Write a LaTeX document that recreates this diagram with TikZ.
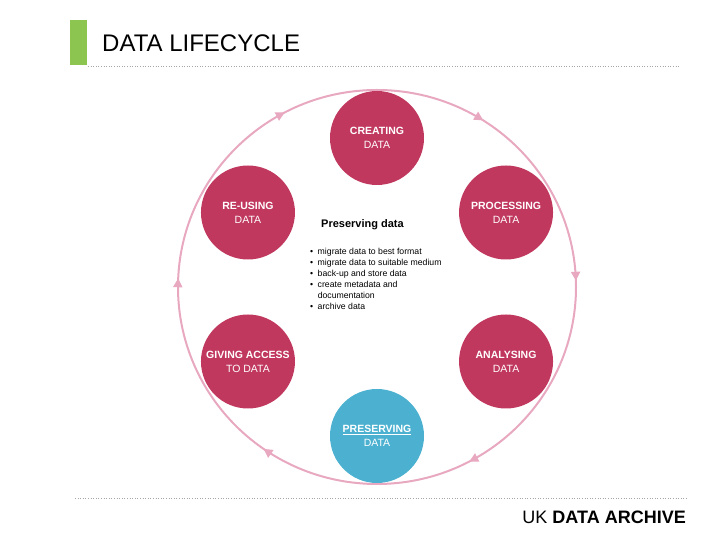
\documentclass[tikz,border=0pt]{standalone}
\usepackage{fontspec}
\setmainfont{Liberation Sans}
\usetikzlibrary{arrows.meta,decorations.markings}
\definecolor{crim}{RGB}{193,56,95}
\definecolor{sky}{RGB}{76,177,208}
\definecolor{ring}{RGB}{232,168,192}
\definecolor{barg}{RGB}{140,198,80}
\begin{document}
\begin{tikzpicture}[x=1pt,y=1pt,
  stage/.style={circle,fill=crim,minimum size=94pt,inner sep=0pt,text=white,align=center,font=\fontsize{10.5}{14}\selectfont},
  rule/.style={gray!70,dotted,line width=0.6pt}]
\useasboundingbox (0,0) rectangle (720,540);
% header
\fill[barg] (70,475) rectangle (87,520);
\node[anchor=base west,inner sep=0pt,font=\fontsize{24}{28}\selectfont] (title) at (102,488) {DATA LIFECYCLE};
\draw[rule] (88,474) -- (680,474);
% ring
\coordinate (C) at (377,253);
\draw[ring,line width=2pt,postaction={decorate},
  decoration={markings,
    mark=at position 0.09 with {\arrow{Triangle[width=9pt,length=9pt]}},
    mark=at position 0.245 with {\arrow{Triangle[width=9pt,length=9pt]}},
    mark=at position 0.423 with {\arrow{Triangle[width=9pt,length=9pt]}},
    mark=at position 0.597 with {\arrow{Triangle[width=9pt,length=9pt]}},
    mark=at position 0.757 with {\arrow{Triangle[width=9pt,length=9pt]}},
    mark=at position 0.923 with {\arrow{Triangle[width=9pt,length=9pt]}}}]
  (C) ++(90:197pt) arc[start angle=90,end angle=-270,x radius=199pt,y radius=197pt];
% stages
\node[stage] (create) at ([shift={(90:149pt)}]C) {\textbf{CREATING}\\DATA};
\node[stage] (process) at ([shift={(30:149pt)}]C) {\textbf{PROCESSING}\\DATA};
\node[stage] (analyse) at ([shift={(-30:149pt)}]C) {\textbf{ANALYSING}\\DATA};
\node[stage,fill=sky] (preserve) at ([shift={(-90:149pt)}]C) {\textbf{\underline{PRESERVING}}\\DATA};
\node[stage] (access) at ([shift={(-150:149pt)}]C) {\textbf{GIVING ACCESS}\\TO DATA};
\node[stage] (reuse) at ([shift={(150:149pt)}]C) {\textbf{RE-USING}\\DATA};
% centre text
\node[anchor=base west,inner sep=0pt,font=\fontsize{11}{13}\bfseries\selectfont] (ptitle) at (321,312) {Preserving data};
\node[anchor=north west,inner sep=0pt,align=left,font=\fontsize{8.7}{11}\selectfont] (plist) at (310,291.5)
  {\textbullet\hspace{4.5pt}migrate data to best format\\
   \textbullet\hspace{4.5pt}migrate data to suitable medium\\
   \textbullet\hspace{4.5pt}back-up and store data\\
   \textbullet\hspace{4.5pt}create metadata and\\
   \hphantom{\textbullet}\hspace{4.5pt}documentation\\
   \textbullet\hspace{4.5pt}archive data};
% footer
\draw[rule] (75,42) -- (688,42);
\node[anchor=base east,inner sep=0pt,font=\fontsize{18}{22}\selectfont] (brand) at (686,16) {UK \textbf{DATA ARCHIVE}};
\end{tikzpicture}
\end{document}
